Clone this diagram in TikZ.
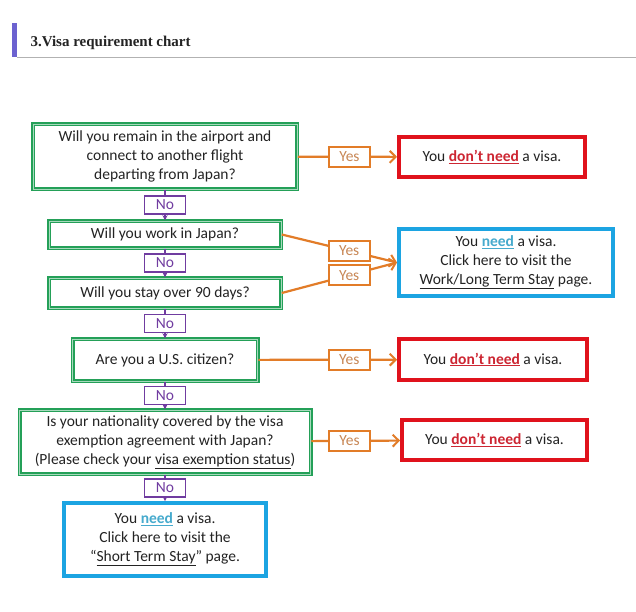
\documentclass[tikz,border=0pt]{standalone}
\usepackage{fontspec}
\setmainfont{Carlito}
\newfontfamily\titlefont{Liberation Serif}
\usetikzlibrary{arrows.meta}
\definecolor{qgreen}{RGB}{36,160,88}
\definecolor{nored}{RGB}{224,18,28}
\definecolor{dontred}{RGB}{205,38,50}
\definecolor{needblue}{RGB}{28,164,226}
\definecolor{needtext}{RGB}{70,170,205}
\definecolor{yesorange}{RGB}{226,124,40}
\definecolor{yestext}{RGB}{200,135,85}
\definecolor{nopurple}{RGB}{112,60,160}
\definecolor{barblue}{RGB}{108,98,208}
\definecolor{textgray}{RGB}{35,35,35}
\def\dontneed{You {\color{dontred}\underline{\textbf{don’t need}}} a visa.}
\def\needit{You {\color{needtext}\underline{\textbf{need}}} a visa.}
\def\pagebox{(0,0) rectangle (636,611)}

\begin{document}
\begin{tikzpicture}[x=1pt,y=-1pt,
	font=\fontsize{15.5}{19}\selectfont,
	question/.style={draw=qgreen, double=qgreen!40, line width=1.5pt, double distance=1pt, fill=white, text=textgray, align=center, inner sep=0pt},
	noanswer/.style={draw=nored, line width=3.8pt, fill=white, text=textgray, align=center, inner sep=0pt},
	needanswer/.style={draw=needblue, line width=4pt, fill=white, text=textgray, align=center, inner sep=0pt},
	yesline/.style={draw=yesorange, line width=2.2pt, -{Straight Barb[length=6pt,width=12pt,line width=2pt]}},
	noline/.style={draw=nopurple, line width=1.6pt, -{Stealth[length=5pt,width=5pt]}},
	yeslabel/.style={draw=yesorange, line width=1.8pt, fill=white, text=yestext, minimum width=41pt, minimum height=20pt, inner sep=0pt},
	nolabel/.style={draw=nopurple, line width=1.8pt, fill=white, text=nopurple, minimum width=41pt, minimum height=18pt, inner sep=0pt}]
	  \fill[white] \pagebox;
	  \useasboundingbox \pagebox;

	  % heading
	  \fill[barblue] (12,23) rectangle (17,57);
	  \draw[gray!60, line width=1pt] (17,57) -- (636,57);
	  \node[anchor=base west, text=textgray, font=\titlefont\fontsize{15}{18}\selectfont\bfseries] (title) at (27,46) {3.Visa requirement chart};

	  % questions
	  \node[question, minimum width=264pt, minimum height=65pt] (airport) at (165,156.5) {Will you remain in the airport and\\connect to another flight\\departing from Japan?};
	  \node[question, minimum width=232pt, minimum height=27pt] (work) at (165,234.5) {Will you work in Japan?};
	  \node[question, minimum width=232pt, minimum height=30pt] (stay) at (165,293) {Will you stay over 90 days?};
	  \node[question, minimum width=185pt, minimum height=42pt] (citizen) at (165,360) {Are you a U.S. citizen?};
	  \node[question, minimum width=291pt, minimum height=64pt] (exempt) at (165,442) {Is your nationality covered by the visa\\exemption agreement with Japan?\\(Please check your \underline{visa exemption status})};

	  % answers
	  \node[noanswer, minimum width=186pt, minimum height=40pt] (transit) at (492,157) {\dontneed};
	  \node[needanswer, minimum width=214pt, minimum height=67pt] (longstay) at (506,262.5) {\needit\\Click here to visit the\\\underline{Work/Long Term Stay} page.};
	  \node[noanswer, minimum width=188pt, minimum height=41pt] (us) at (493,359.5) {\dontneed};
	  \node[noanswer, minimum width=185pt, minimum height=40pt] (waiver) at (494.5,440) {\dontneed};
	  \node[needanswer, minimum width=202pt, minimum height=73pt] (shortstay) at (165,539.5) {\needit\\Click here to visit the\\“\underline{Short Term Stay}” page.};

	  % yes branches
	  \draw[yesline] (airport) -- node[yeslabel, pos=.52]{Yes} (transit);
	  \draw[yesline] (work.east) -- node[yeslabel, pos=.585]{Yes} (longstay.west);
	  \draw[yesline] (stay.east) -- node[yeslabel, pos=.585]{Yes} (longstay.west);
	  \draw[yesline] (citizen) -- node[yeslabel, pos=.655]{Yes} (us);
	  \draw[yesline] (exempt) -- node[yeslabel, pos=.43]{Yes} (waiver);

	  % no branches
	  \draw[noline] (airport) -- node[nolabel]{No} (work);
	  \draw[noline] (work) -- node[nolabel]{No} (stay);
	  \draw[noline] (stay) -- node[nolabel]{No} (citizen);
	  \draw[noline] (citizen) -- node[nolabel]{No} (exempt);
	  \draw[noline] (exempt) -- node[nolabel]{No} (shortstay);
\end{tikzpicture}
\end{document}
